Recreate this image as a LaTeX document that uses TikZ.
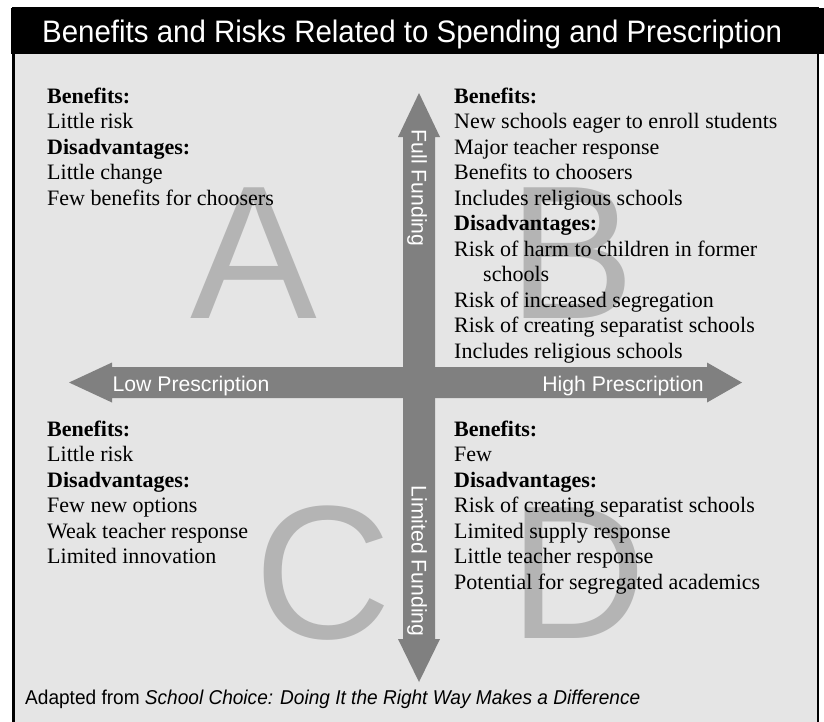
\documentclass[tikz,border=0pt]{standalone}
\usepackage{fontspec}
\usepackage{graphicx}
\usepackage{xcolor}
\setmainfont{Liberation Serif}
\setsansfont{Liberation Sans}
\usetikzlibrary{positioning}

\definecolor{panelgray}{HTML}{E5E5E5}
\definecolor{arrowgray}{HTML}{808080}
\definecolor{lettergray}{HTML}{B4B4B4}

\newcommand{\quadlist}[1]{\begin{tabular}[t]{@{}l@{}}#1\end{tabular}}

\begin{document}
\begin{tikzpicture}[x=1pt, y=-1pt,
  quadtext/.style={anchor=base west, inner sep=0pt, font=\fontsize{22}{25.5}\selectfont},
  bigletter/.style={anchor=base, inner sep=0pt, text=lettergray, font=\sffamily\fontsize{190}{190}\selectfont},
  axislabel/.style={anchor=base, inner sep=0pt, text=white, font=\sffamily\fontsize{21.2}{24}\selectfont}]
\useasboundingbox (0, 0) rectangle (824, 721);
% panel and title bar
\filldraw [fill=panelgray, draw=black, line width=2.5pt] (13.5, 8) rectangle (818, 740);
\fill [black] (11, 8) rectangle (824, 54);
\node [anchor=base west, inner sep=0pt, text=white, font=\sffamily\fontsize{30}{30}\selectfont] (title) at (42, 42)
  {\resizebox{740pt}{22.5pt}{Benefits and Risks Related to Spending and Prescription}};
% quadrant letters
\foreach \l/\x/\y in {A/254/318, B/572/318, C/323/638, D/578/638}
  \node [bigletter] (let\l) at (\x, \y) {\l};
% the two axes
\fill [arrowgray] (419, 93) -- (440, 137) -- (435, 137) -- (435, 639) -- (440, 639) -- (419, 682)
  -- (398, 639) -- (403, 639) -- (403, 137) -- (398, 137) -- cycle;
\fill [arrowgray] (69, 382.5) -- (112, 362.5) -- (112, 367) -- (707, 367) -- (707, 362.5) -- (742, 382.5)
  -- (707, 402.5) -- (707, 398) -- (112, 398) -- (112, 402.5) -- cycle;
\node [axislabel] (low) at (191, 391) {Low Prescription};
\node [axislabel] (high) at (623, 391) {High Prescription};
\node [axislabel, rotate=-90] (full) at (411.5, 188) {Full Funding};
\node [axislabel, rotate=-90] (limited) at (411.5, 561) {Limited Funding};
% quadrant texts
\node [quadtext] (quadA) at (47, 103) {\quadlist{%
  \textbf{Benefits:}\\ Little risk\\ \textbf{Disadvantages:}\\ Little change\\ Few benefits for choosers}};
\node [quadtext] (quadB) at (454, 103) {\quadlist{%
  \textbf{Benefits:}\\ New schools eager to enroll students\\ Major teacher response\\
  Benefits to choosers\\ Includes religious schools\\ \textbf{Disadvantages:}\\
  Risk of harm to children in former\\ \hspace*{29pt}schools\\ Risk of increased segregation\\
  Risk of creating separatist schools\\ Includes religious schools}};
\node [quadtext] (quadC) at (47, 436) {\quadlist{%
  \textbf{Benefits:}\\ Little risk\\ \textbf{Disadvantages:}\\ Few new options\\
  Weak teacher response\\ Limited innovation}};
\node [quadtext] (quadD) at (454, 436) {\quadlist{%
  \textbf{Benefits:}\\ Few\\ \textbf{Disadvantages:}\\ Risk of creating separatist schools\\
  Limited supply response\\ Little teacher response\\ Potential for segregated academics}};
% source line
\node [anchor=base west, inner sep=0pt, font=\sffamily\fontsize{20}{20}\selectfont] (source) at (25, 704)
  {\resizebox{615pt}{14.5pt}{Adapted from \textit{School Choice: Doing It the Right Way Makes a Difference}}};
\end{tikzpicture}
\end{document}
